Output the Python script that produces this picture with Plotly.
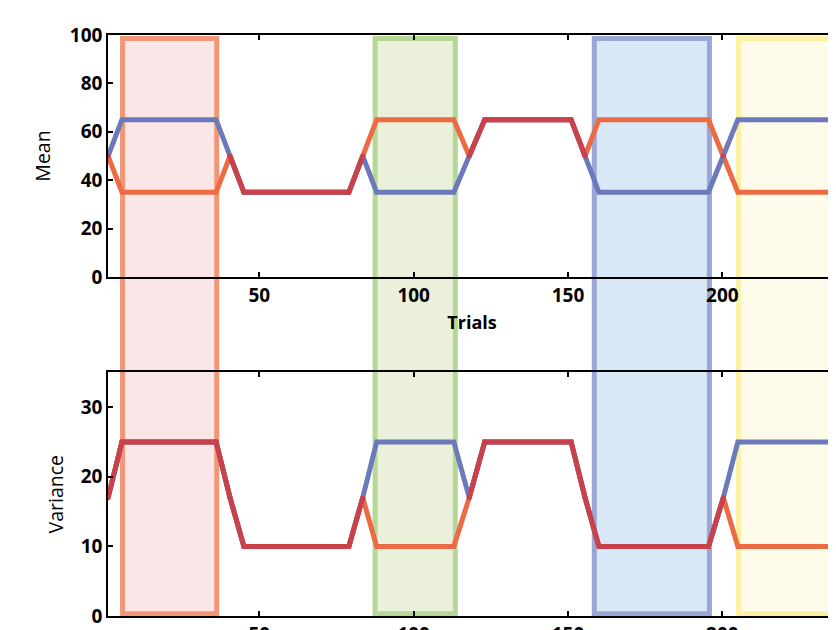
import plotly.graph_objects as go
from plotly.subplots import make_subplots

# ---- data ----
trials = [1, 5.5, 36, 40.5, 45, 79, 83.5, 88, 113, 118, 123, 151, 155.5, 160, 195.5, 200.3, 205, 235.5, 240]
mean_blue = [50, 65, 65, 50, 35, 35, 50, 35, 35, 50, 65, 65, 50, 35, 35, 50, 65, 65, 50]
mean_orange = [50, 35, 35, 50, 35, 35, 50, 65, 65, 50, 65, 65, 50, 65, 65, 50, 35, 35, 50]
var_blue = [17, 25, 25, 17, 10, 10, 17, 25, 25, 17, 25, 25, 17, 10, 10, 17, 25, 25, 17]
var_orange = [17, 25, 25, 17, 10, 10, 17, 10, 10, 17, 25, 25, 17, 10, 10, 17, 10, 10, 17]

block_starts = [5.7, 87.5, 158.5, 205.2]
block_ends = [36.2, 113.5, 195.8, 235.0]

mean_ticks = [0, 20, 40, 60, 80, 100]
var_ticks = [0, 10, 20, 30]
x_ticks = [50, 100, 150, 200]

# ---- styles ----
BLUE = "#6b7aba"
ORANGE = "#ec6b44"
RED = "#c9414a"
block_fill = ["#fbe6e7", "#eaf0da", "#d8e8f7", "#fffbea"]
block_line = ["#f19676", "#b5d896", "#9ba6d6", "#fdf0a4"]
FONT = "Open Sans"

fig = make_subplots(rows=2, cols=1, vertical_spacing=0.0)


def same(a, b):
    return [x if x == y else None for x, y in zip(a, b)]


for row, (b, o) in enumerate([(mean_blue, mean_orange), (var_blue, var_orange)], start=1):
    fig.add_trace(go.Scatter(x=trials, y=o, mode="lines", line=dict(color=ORANGE, width=5),
                             showlegend=False, hoverinfo="skip"), row=row, col=1)
    fig.add_trace(go.Scatter(x=trials, y=b, mode="lines", line=dict(color=BLUE, width=5),
                             showlegend=False, hoverinfo="skip"), row=row, col=1)
    fig.add_trace(go.Scatter(x=trials, y=same(b, o), mode="lines+markers",
                             line=dict(color=RED, width=5), marker=dict(color=RED, size=5),
                             connectgaps=False, showlegend=False, hoverinfo="skip"), row=row, col=1)

for x0, x1, fc, lc in zip(block_starts, block_ends, block_fill, block_line):
    fig.add_shape(type="rect", xref="x", yref="paper", x0=x0, x1=x1, y0=0.004, y1=0.994,
                  fillcolor=fc, line=dict(color=lc, width=5), layer="below")

xr = [0.98, 236.8]
axis_common = dict(showline=True, linecolor="black", linewidth=1.5, ticks="inside",
                   ticklen=5, tickwidth=1.5, tickcolor="black", showgrid=False,
                   zeroline=False, automargin=False,
                   tickfont=dict(family=FONT, size=19, color="black", weight="bold"))

fig.update_xaxes(range=xr, tickvals=x_ticks, mirror="ticks", **axis_common)
fig.update_xaxes(title=dict(text="Trials", font=dict(family=FONT, size=18, color="black", weight="bold"),
                            standoff=10), row=1, col=1)
fig.update_xaxes(domain=[0, 1])

fig.update_yaxes(range=[0, 100], tickvals=mean_ticks, domain=[0.5835, 1.0],
                 title=dict(text="Mean", font=dict(family=FONT, size=19.5, color="black"), standoff=14),
                 **axis_common, row=1, col=1)
fig.update_yaxes(range=[0, 35], tickvals=var_ticks, domain=[0.0, 0.4194],
                 title=dict(text="Variance", font=dict(family=FONT, size=19.5, color="black"), standoff=12),
                 **axis_common, row=2, col=1)

fig.update_layout(width=836, height=630, margin=dict(l=100, r=8, t=27, b=22),
                  paper_bgcolor="white", plot_bgcolor="rgba(0,0,0,0)", template="none",
                  showlegend=False)

fig.write_html("out.html")
